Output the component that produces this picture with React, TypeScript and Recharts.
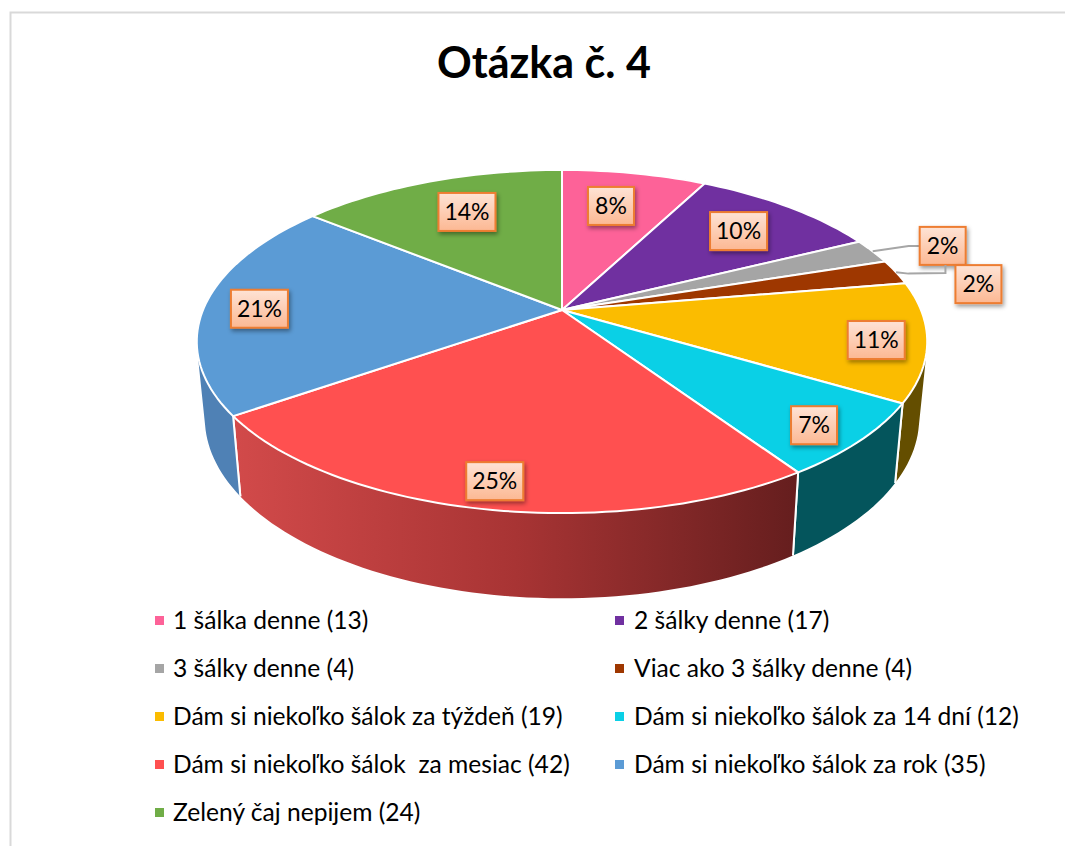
import { Legend, Pie, PieChart } from "recharts";

const categories = [
  "1 šálka denne (13)",
  "2 šálky denne (17)",
  "3 šálky denne (4)",
  "Viac ako 3 šálky denne (4)",
  "Dám si niekoľko šálok za týždeň (19)",
  "Dám si niekoľko šálok za 14 dní (12)",
  "Dám si niekoľko šálok  za mesiac (42)",
  "Dám si niekoľko šálok za rok (35)",
  "Zelený čaj nepijem (24)",
];
const values = [13, 17, 4, 4, 19, 12, 42, 35, 24];
const colors = ["#fd6298", "#7030a0", "#a5a5a5", "#9e3700", "#fbbc00", "#0ad0e6", "#ff5050", "#5b9bd5", "#70ad47"];
const wallColors = ["#8a3555", "#3e1a58", "#5b5b5b", "#571e00", "#644e00", "#04555c", "url(#redWall)", "#4f81b5", "#3e6027"];

// label placement: fraction of the radius, and shift from the slice's mid angle
const labelRadius = [0.726, 0.75, 1.215, 1.205, 0.865, 0.876, 0.882, 0.844, 0.727];
const labelShift = [-1.5, 0.4, 2.2, 6.1, 1.1, 1.3, -0.3, -1.6, 1.3];

const tableData = categories.map((name, i) => ({ name, value: values[i], fill: colors[i], wall: wallColors[i] }));

const CX = 562;
const CY = 310;
const RADIUS = 359;
const TILT = 0.4618; // vertical squash of the disc
const PERSPECTIVE = -0.1837;

// clockwise angle from 12 o'clock -> point on the tilted disc
function project(clockwise: number, r = 1) {
  const rad = (clockwise * Math.PI) / 180;
  const u = r * Math.sin(rad);
  const v = -r * Math.cos(rad);
  const w = 1 + PERSPECTIVE * v;
  return { x: (RADIUS * u) / w, y: (RADIUS * TILT * v) / w };
}

function arcPoints(startAngle: number, endAngle: number) {
  const from = 90 - startAngle;
  const to = 90 - endAngle;
  const steps = Math.max(2, Math.ceil((to - from) / 1.5));
  const pts = [];
  for (let i = 0; i <= steps; i++) pts.push(project(from + ((to - from) * i) / steps));
  return pts;
}

function TopFace(props: any) {
  const pts = arcPoints(props.startAngle, props.endAngle);
  const d = `M${CX} ${CY} ` + pts.map((p) => `L${CX + p.x} ${CY + p.y}`).join(" ") + " Z";
  return <path d={d} fill={props.fill} stroke="#fff" strokeWidth={2} strokeLinejoin="round" />;
}

// the wall is a strip of small quads so the outline follows the disc's silhouette
function SideWall(props: any) {
  const top = arcPoints(props.startAngle, props.endAngle);
  const bottom = top.map((p) => ({ x: p.x * 0.978, y: p.y * 1.05 + 75 }));
  let d = "";
  for (let i = 0; i < top.length - 1; i++) {
    let quad = [top[i], top[i + 1], bottom[i + 1], bottom[i]];
    let area = 0;
    quad.forEach((p, k) => {
      const q = quad[(k + 1) % 4];
      area += p.x * q.y - q.x * p.y;
    });
    if (area < 0) quad = quad.reverse();
    d += quad.map((p, k) => `${k ? "L" : "M"}${CX + p.x} ${CY + p.y}`).join(" ") + " Z ";
  }
  const last = top.length - 1;
  const edges = [0, last]
    .map((i) => `M${CX + top[i].x} ${CY + top[i].y} L${CX + bottom[i].x} ${CY + bottom[i].y}`)
    .join(" ");
  return (
    <g>
      <path d={d} fill={props.wall} />
      <path d={edges} fill="none" stroke="#fff" strokeWidth={2} />
    </g>
  );
}

function PercentLabel(props: any) {
  const { index, midAngle, percent } = props;
  const mid = 90 - midAngle;
  const p = project(mid + labelShift[index], labelRadius[index]);
  const x = CX + p.x;
  const y = CY + p.y;
  const text = `${Math.round(percent * 100)}%`;
  const w = text.length > 2 ? 57 : 46;
  const h = 38;
  let leader = null;
  if (labelRadius[index] > 1) {
    const s = project(mid);
    const sx = CX + s.x;
    const sy = CY + s.y;
    const pts = index === 2
      ? [[sx, sy], [x - 34, y], [x - 23, y]]
      : [[sx, sy], [x - 70, y - 10.5], [x - 33, y - 11], [x - 33, y - 19]];
    leader = <polyline points={pts.map((q) => q.join(",")).join(" ")} fill="none" stroke="#a6a6a6" strokeWidth={2} />;
  }
  return (
    <g>
      {leader}
      <rect x={x - w / 2} y={y - h / 2} width={w} height={h} fill="url(#labelFill)" stroke="#ed7d31" strokeWidth={2} filter="url(#labelShadow)" />
      <text x={x} y={y + 8} textAnchor="middle" fontSize={23} fontFamily="Lato, sans-serif" fill="#000">
        {text}
      </text>
    </g>
  );
}

function LegendGrid({ payload }: any) {
  const items = (payload || []).filter((item: any, i: number, all: any[]) => all.findIndex((o) => o.value === item.value) === i);
  return (
    <div style={{ position: "relative", width: 1065, height: 240, fontFamily: "Lato, sans-serif", fontSize: 24.6, color: "#000" }}>
      {items.map((item: any, i: number) => {
        const col = i % 2;
        const row = Math.floor(i / 2);
        return (
          <div key={i} style={{ position: "absolute", left: col ? 615 : 155, top: row * 48, height: 40, lineHeight: "40px", whiteSpace: "pre" }}>
            <span style={{ position: "absolute", left: 0, top: 16, width: 9, height: 9, background: item.color }} />
            <span style={{ position: "absolute", left: col ? 19 : 18, top: 0 }}>{item.value}</span>
          </div>
        );
      })}
    </div>
  );
}

export default function App() {
  return (
    <div style={{ position: "absolute", left: 0, top: 0, width: 1065, height: 846, background: "#fff" }}>
      <PieChart width={1065} height={846} margin={{ top: 0, right: 0, bottom: 0, left: 0 }}>
        <defs>
          <linearGradient id="redWall" x1="0" y1="0" x2="1" y2="0">
            <stop offset="0%" stopColor="#d24a4a" />
            <stop offset="50%" stopColor="#a83434" />
            <stop offset="100%" stopColor="#651e1e" />
          </linearGradient>
          <linearGradient id="labelFill" x1="0" y1="0" x2="0" y2="1">
            <stop offset="0%" stopColor="#fee3d5" />
            <stop offset="100%" stopColor="#fcb893" />
          </linearGradient>
          <filter id="labelShadow" x="-20%" y="-20%" width="150%" height="150%">
            <feDropShadow dx="1.5" dy="2.5" stdDeviation="2" floodColor="#000" floodOpacity="0.4" />
          </filter>
        </defs>
        <path d="M10.5 846 V12.5 H1065" fill="none" stroke="#d9d9d9" strokeWidth={2} />
        <text x={544} y={78} textAnchor="middle" fontSize={43} fontWeight={700} fontFamily="Lato, sans-serif" fill="#000">
          Otázka č. 4
        </text>
        <Pie
          data={tableData}
          dataKey="value"
          nameKey="name"
          cx={CX}
          cy={CY}
          outerRadius={RADIUS}
          startAngle={90}
          endAngle={-270}
          legendType="none"
          shape={SideWall}
          isAnimationActive={false}
        />
        <Pie
          data={tableData}
          dataKey="value"
          nameKey="name"
          cx={CX}
          cy={CY}
          outerRadius={RADIUS}
          startAngle={90}
          endAngle={-270}
          shape={TopFace}
          label={PercentLabel}
          labelLine={false}
          isAnimationActive={false}
        />
        <Legend content={LegendGrid} itemSorter={null} wrapperStyle={{ left: 0, top: 600, width: 1065 }} />
      </PieChart>
    </div>
  );
}
